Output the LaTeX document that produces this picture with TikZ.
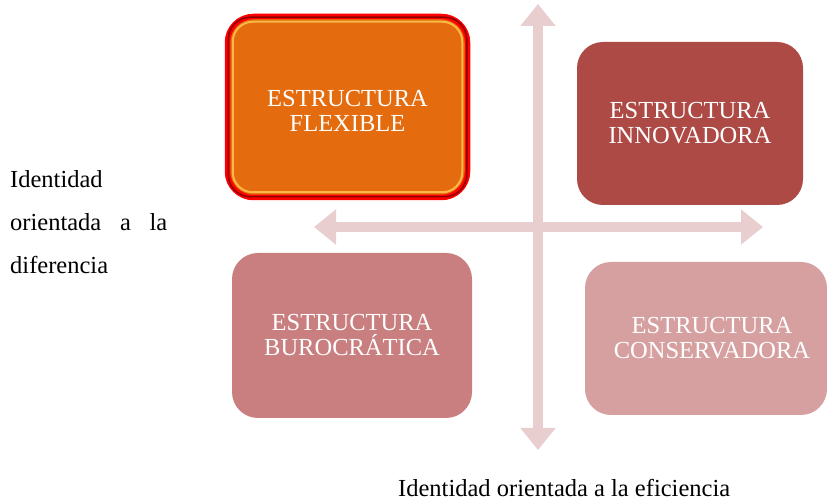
\documentclass[tikz,border=0pt]{standalone}
\usepackage{fontspec}
\setmainfont{Liberation Serif}
\usetikzlibrary{arrows.meta}
\definecolor{flexorange}{RGB}{228,108,14}
\definecolor{flexgold}{RGB}{250,184,70}
\definecolor{innored}{RGB}{173,74,70}
\definecolor{burored}{RGB}{201,127,127}
\definecolor{consrose}{RGB}{214,160,160}
\definecolor{axispink}{RGB}{232,206,206}

\begin{document}
\begin{tikzpicture}[x=1pt,y=1pt,
  caja/.style={rounded corners=26pt,inner sep=0pt},
  texto/.style={align=center,text=white,inner sep=0pt,
    font=\fontsize{24.5}{25}\selectfont},
  eje/.style={axispink,line width=10pt,
    {Triangle[length=22pt,width=34pt]}-{Triangle[length=22pt,width=34pt]}}]
\useasboundingbox (0,0) rectangle (827,503);
\coordinate (arriba) at (538,499);
\coordinate (abajo) at (538,53);
\coordinate (izq) at (314,276);
\coordinate (der) at (763,276);
\draw [eje] (abajo)--(arriba);
\draw [eje] (izq)--(der);

\node [caja,fill=flexorange,draw=red,line width=5.5pt,minimum width=240,minimum height=181] (flexible) at (347.5,396) {};
\draw [red!55!black,line width=1.5pt,rounded corners=22pt] ([shift={(3.5,-3.5)}]flexible.north west) rectangle ([shift={(-3.5,3.5)}]flexible.south east);
\draw [flexgold,line width=2pt,rounded corners=20pt] ([shift={(8,-8)}]flexible.north west) rectangle ([shift={(-8,8)}]flexible.south east);
\node [texto] (flextexto) at ([yshift=-4]flexible.center) {ESTRUCTURA\\FLEXIBLE};

\node [caja,fill=innored,minimum width=226,minimum height=163] (innovadora) at (690,379.5) {};
\node [texto] (innotexto) at (innovadora.center) {ESTRUCTURA\\INNOVADORA};
\node [caja,fill=burored,minimum width=240,minimum height=165] (burocratica) at (352,167.5) {};
\node [texto] (burotexto) at (burocratica.center) {ESTRUCTURA\\BUROCRÁTICA};
\node [caja,fill=consrose,minimum width=242,minimum height=153] (conservadora) at (706,164.5) {};
\node [texto] (constexto) at ([xshift=6]conservadora.center) {ESTRUCTURA\\CONSERVADORA};

\node [anchor=north west,inner sep=0pt,text width=157,align=left,font=\fontsize{24.5}{43}\selectfont] (diferencia) at (10,333) {Identidad\\orientada\hfill a\hfill la\\diferencia};
\node [anchor=base west,inner sep=0pt,font=\fontsize{24.5}{25}\selectfont] (eficiencia) at (398,6) {Identidad orientada a la eficiencia};
\end{tikzpicture}
\end{document}
